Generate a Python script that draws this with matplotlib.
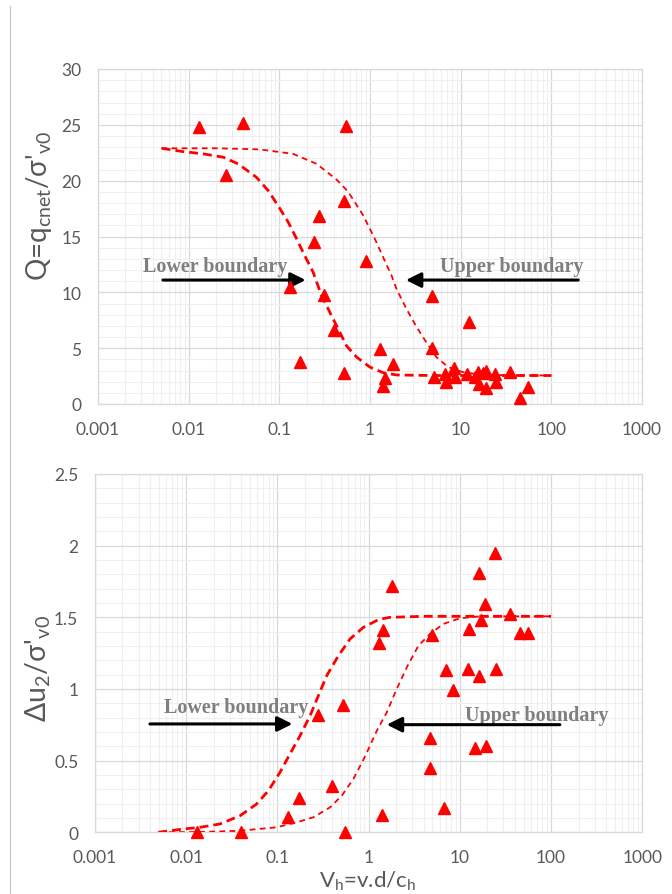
import matplotlib
matplotlib.use('Agg')
import matplotlib.pyplot as plt
from matplotlib.lines import Line2D
from matplotlib.ticker import FixedLocator, FuncFormatter, LogLocator, MultipleLocator

# measured points: Q = q_cnet / sigma'_v0 vs V_h
q_v = [0.013, 0.040, 0.026, 0.274, 0.240, 0.131, 0.31, 0.40, 0.169, 0.542,
       0.515, 0.90, 0.515, 4.78, 12.4, 1.29, 1.80, 1.46, 1.40, 4.78,
       5.1, 6.97, 6.7, 8.4, 8.77, 11.8, 14.3, 15.6, 15.9, 17.7,
       19.2, 19.2, 24.2, 24.8, 35.3, 45.5, 55.2]
q_val = [24.8, 25.2, 20.5, 16.8, 14.5, 10.5, 9.8, 6.6, 3.8, 24.9,
         18.2, 12.8, 2.75, 9.7, 7.3, 4.9, 3.6, 2.3, 1.65, 5.0,
         2.4, 1.95, 2.7, 3.2, 2.4, 2.7, 2.4, 2.9, 1.8, 2.8,
         3.0, 1.4, 2.7, 1.95, 2.9, 0.5, 1.55]

# measured points: du2 / sigma'_v0 vs V_h
u_v = [0.013, 0.040, 0.129, 0.171, 0.277, 0.40, 0.52, 0.55, 1.30, 1.45,
       1.82, 1.40, 5.0, 4.7, 4.7, 6.7, 7.06, 8.5, 12.2, 12.6,
       14.7, 16.1, 16.1, 17.2, 18.9, 19.4, 24.1, 24.8, 35.5, 45.7, 56]
u_val = [0.0, 0.0, 0.11, 0.24, 0.82, 0.32, 0.89, 0.0, 1.32, 1.41,
         1.72, 0.12, 1.38, 0.66, 0.45, 0.17, 1.13, 0.99, 1.14, 1.42,
         0.59, 1.81, 1.09, 1.48, 1.59, 0.60, 1.95, 1.14, 1.52, 1.39, 1.39]

# boundary curves
q_low_v = [0.00504, 0.0087, 0.0145, 0.0241, 0.0352, 0.056, 0.0755, 0.097, 0.125, 0.155,
           0.19, 0.236, 0.292, 0.377, 0.447, 0.552, 0.711, 1.0, 1.4, 1.96, 4.98, 100]
q_low = [22.9, 22.6, 22.4, 22.1, 21.5, 20.3, 19.1, 17.75, 16.3, 14.8,
         13.3, 11.8, 9.7, 7.9, 6.7, 5.2, 4.2, 3.3, 2.8, 2.6, 2.55, 2.55]
q_up_v = [0.005, 0.0204, 0.061, 0.142, 0.258, 0.428, 0.575, 0.84, 1.13, 1.46,
          1.73, 1.96, 2.53, 3.26, 4.2, 5.4, 7.3, 10.7, 17.7, 100]
q_up = [22.9, 22.9, 22.8, 22.4, 21.5, 20.1, 19.0, 16.9, 14.8, 12.8,
        11.5, 10.3, 8.5, 6.9, 5.5, 4.2, 3.3, 2.84, 2.6, 2.55]

u_low_v = [0.00494, 0.0093, 0.0142, 0.0235, 0.039, 0.059, 0.0795, 0.107, 0.137, 0.177,
           0.228, 0.281, 0.347, 0.466, 0.625, 0.875, 1.3, 1.72, 3.98, 100]
u_low = [0.0, 0.023, 0.035, 0.058, 0.116, 0.197, 0.29, 0.42, 0.546, 0.674,
         0.814, 0.953, 1.093, 1.232, 1.349, 1.43, 1.486, 1.50, 1.507, 1.507]
u_up_v = [0.005, 0.0142, 0.039, 0.098, 0.163, 0.248, 0.377, 0.507, 0.68, 0.914,
          1.23, 1.58, 2.03, 2.62, 3.51, 4.71, 6.59, 10.0, 16.6, 100]
u_up = [0.0, 0.002, 0.011, 0.035, 0.07, 0.105, 0.174, 0.255, 0.372, 0.53,
        0.709, 0.837, 1.0, 1.151, 1.302, 1.384, 1.454, 1.493, 1.507, 1.507]

x_ticks = [0.001, 0.01, 0.1, 1, 10, 100, 1000]
x_labels = ['0.001', '0.01', '0.1', '1', '10', '100', '1000']

RED = '#ff0000'
GRAY = '#595959'
ANN = '#7f7f7f'


def style_axes(ax, ymax, ymajor, yminor, ylabels):
    ax.set_xscale('log')
    ax.set_xlim(0.001, 1000)
    ax.set_ylim(0, ymax)
    ax.xaxis.set_major_locator(FixedLocator(x_ticks))
    ax.xaxis.set_major_formatter(FuncFormatter(lambda v, p: x_labels[x_ticks.index(v)] if v in x_ticks else ''))
    ax.xaxis.set_minor_locator(LogLocator(base=10, subs=range(2, 10), numticks=20))
    ax.xaxis.set_minor_formatter(FuncFormatter(lambda v, p: ''))
    ax.yaxis.set_major_locator(MultipleLocator(ymajor))
    ax.yaxis.set_minor_locator(MultipleLocator(yminor))
    ax.yaxis.set_major_formatter(FuncFormatter(lambda v, p: ylabels(v)))
    ax.grid(which='major', color='#d9d9d9', lw=0.9)
    ax.grid(which='minor', color='#efefef', lw=0.8)
    ax.set_axisbelow(True)
    for s in ax.spines.values():
        s.set_color('#d9d9d9')
        s.set_linewidth(0.9)
    ax.tick_params(which='both', length=0, colors=GRAY, labelsize=12.5, pad=12)


def boundary_lines(ax, lv, l, uv, u):
    ax.plot(lv, l, color=RED, lw=2.0, linestyle=(0, (3.2, 1.8)), zorder=3)
    ax.plot(uv, u, color=RED, lw=1.3, linestyle=(0, (3.2, 2.4)), zorder=3)


def label_arrow(ax, text, tx, ty, x0, x1, y):
    ax.text(tx, ty, text, ha='center', va='center', fontsize=14.5, fontweight='bold',
            family='Liberation Serif', color=ANN, zorder=4)
    ax.annotate('', xy=(x1, y), xytext=(x0, y),
                arrowprops=dict(arrowstyle='-|>,head_length=0.9,head_width=0.45',
                                color='black', lw=2.2, shrinkA=0, shrinkB=0), zorder=4)


plt.rcParams['font.family'] = ['Lato', 'DejaVu Sans']
plt.rcParams['mathtext.fontset'] = 'dejavusans'

fig = plt.figure(figsize=(6.72, 8.95), dpi=100)
fig.add_artist(Line2D([10 / 672, 10 / 672], [0, 1 - 7 / 895], color='#c8c8c8', lw=0.9))

# top panel
ax1 = fig.add_axes([98 / 672, 1 - 405 / 895, 544 / 672, 335 / 895])
style_axes(ax1, 30, 5, 1, lambda v: f'{v:.0f}')
boundary_lines(ax1, q_low_v, q_low, q_up_v, q_up)
ax1.plot(q_v, q_val, '^', color=RED, ms=8, mec=RED, zorder=5, clip_on=False)
label_arrow(ax1, 'Lower boundary', 0.0195, 12.4, 0.0052, 0.195, 11.1)
label_arrow(ax1, 'Upper boundary', 36.7, 12.4, 198, 2.49, 11.1)
ax1.set_ylabel(r"Q=q$_{\mathregular{cnet}}$/σ'$_{\mathregular{v0}}$", fontsize=20, color=GRAY)
ax1.yaxis.set_label_coords(-0.08, 0.595)

# bottom panel
ax2 = fig.add_axes([95 / 672, 1 - 833.3 / 895, 547.3 / 672, 358.3 / 895])
style_axes(ax2, 2.5, 0.5, 0.1, lambda v: f'{v:g}')
boundary_lines(ax2, u_low_v, u_low, u_up_v, u_up)
ax2.plot(u_v, u_val, '^', color=RED, ms=8, mec=RED, zorder=5, clip_on=False)
label_arrow(ax2, 'Lower boundary', 0.0355, 0.872, 0.004, 0.146, 0.756)
label_arrow(ax2, 'Upper boundary', 69, 0.819, 125, 1.58, 0.751)
ax2.set_ylabel(r"Δu$_{\mathregular{2}}$/σ'$_{\mathregular{v0}}$", fontsize=20.5, color=GRAY)
ax2.yaxis.set_label_coords(-0.077, 0.46)
ax2.set_xlabel(r"V$_{\mathregular{h}}$=v.d/c$_{\mathregular{h}}$", fontsize=16, color=GRAY)
ax2.xaxis.set_label_coords(0.499, -0.1)

fig.savefig('out.png', dpi=100)
